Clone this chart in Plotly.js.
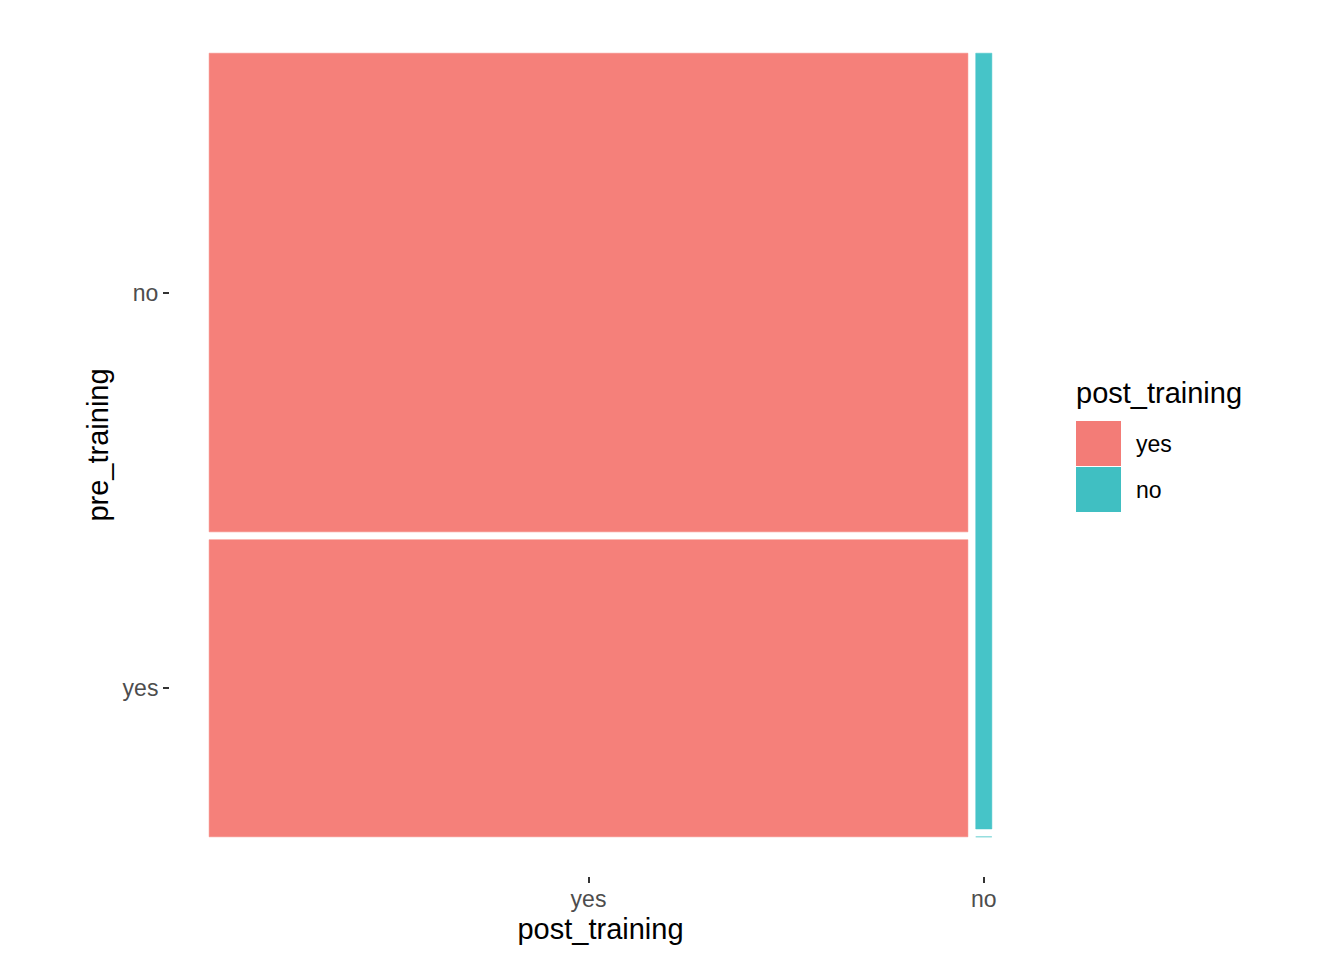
<!DOCTYPE html>
<html>
<head>
<meta charset="utf-8">
<script src="https://cdn.plot.ly/plotly-3.0.1.min.js"></script>
<style>html,body{margin:0;padding:0;background:#fff}#chart{width:1344px;height:960px}</style>
</head>
<body>
<div id="chart"></div>
<script>
// categories
const postCats = ['yes', 'no'];          // x: post_training
const preCats = ['yes', 'no'];           // stacking order bottom -> top: pre_training
// counts[post][pre]
const countsPostYes = [18, 29];          // pre yes, pre no
const countsPostNo = [0, 1];             // pre yes, pre no
const fillColors = ['#F5807A', '#46C4C8'];
const legendColors = ['#F37C77', '#40BFC2'];

const counts = [countsPostYes, countsPostNo];
const offset = 0.01;
const colTotals = counts.map(c => c.reduce((a, b) => a + b, 0));
const grand = colTotals.reduce((a, b) => a + b, 0);
const availX = 1 - offset * (postCats.length - 1);

const traces = [];
let x0 = 0;
const xTickVals = [];
let yTickVals = [];
postCats.forEach((pc, i) => {
  const w = availX * colTotals[i] / grand;
  const cx = x0 + w / 2;
  xTickVals.push(cx);
  const availY = 1 - offset * (preCats.length - 1);
  let y0 = 0;
  const bases = [], heights = [], centers = [];
  preCats.forEach((pr, j) => {
    const h = availY * counts[i][j] / colTotals[i];
    bases.push(y0); heights.push(h); centers.push(y0 + h / 2);
    y0 += h + offset;
  });
  if (i === 0) yTickVals = centers;
  traces.push({
    type: 'bar', orientation: 'v',
    x: preCats.map(() => cx), y: heights, base: bases,
    width: preCats.map(() => w),
    marker: {color: fillColors[i], line: {color: fillColors[i], width: 0.5}, opacity: 1},
    name: pc, showlegend: false, hoverinfo: 'skip'
  });
  x0 += w + offset;
});

// panel pixel geometry
const L = 170, R = 1031, T = 14, B = 876;
const px = v => (v - L) / (R - L);
const py = v => (B - v) / (B - T);

const shapes = [];
const annotations = [];
// legend
annotations.push({xref: 'paper', yref: 'paper', x: px(1074), y: py(393), xanchor: 'left', yanchor: 'middle',
  text: 'post_training', showarrow: false, font: {size: 29, color: '#000'}});
postCats.forEach((pc, i) => {
  const top = 421 + i * 46;
  shapes.push({type: 'rect', xref: 'paper', yref: 'paper', x0: px(1076), x1: px(1121), y0: py(top + 45), y1: py(top),
    fillcolor: legendColors[i], line: {width: 0}});
  annotations.push({xref: 'paper', yref: 'paper', x: px(1134), y: py(top + 23), xanchor: 'left', yanchor: 'middle',
    text: pc, showarrow: false, font: {size: 23, color: '#000'}});
});

const layout = {
  width: 1344, height: 960,
  margin: {l: L, r: 1344 - R, t: T, b: 960 - B},
  paper_bgcolor: '#fff', plot_bgcolor: '#fff',
  barmode: 'overlay', showlegend: false,
  font: {family: 'Liberation Sans, Arial, sans-serif'},
  xaxis: {range: [-0.05, 1.05], tickvals: xTickVals, ticktext: postCats,
    showgrid: false, zeroline: false, showline: false, ticks: 'outside', ticklen: 6, tickwidth: 2, tickcolor: '#333',
    ticklabelstandoff: -4,
    tickfont: {size: 23, color: '#4D4D4D'},
    title: {text: 'post_training', font: {size: 29, color: '#000'}, standoff: 8}},
  yaxis: {range: [-0.05, 1.05], tickvals: yTickVals, ticktext: preCats,
    showgrid: false, zeroline: false, showline: false, ticks: 'outside', ticklen: 6, tickwidth: 2, tickcolor: '#333',
    tickfont: {size: 23, color: '#4D4D4D'},
    title: {text: 'pre_training', font: {size: 29, color: '#000'}, standoff: 5}},
  shapes: shapes, annotations: annotations
};
Plotly.newPlot('chart', traces, layout, {displayModeBar: false, staticPlot: true});
</script>
</body>
</html>
